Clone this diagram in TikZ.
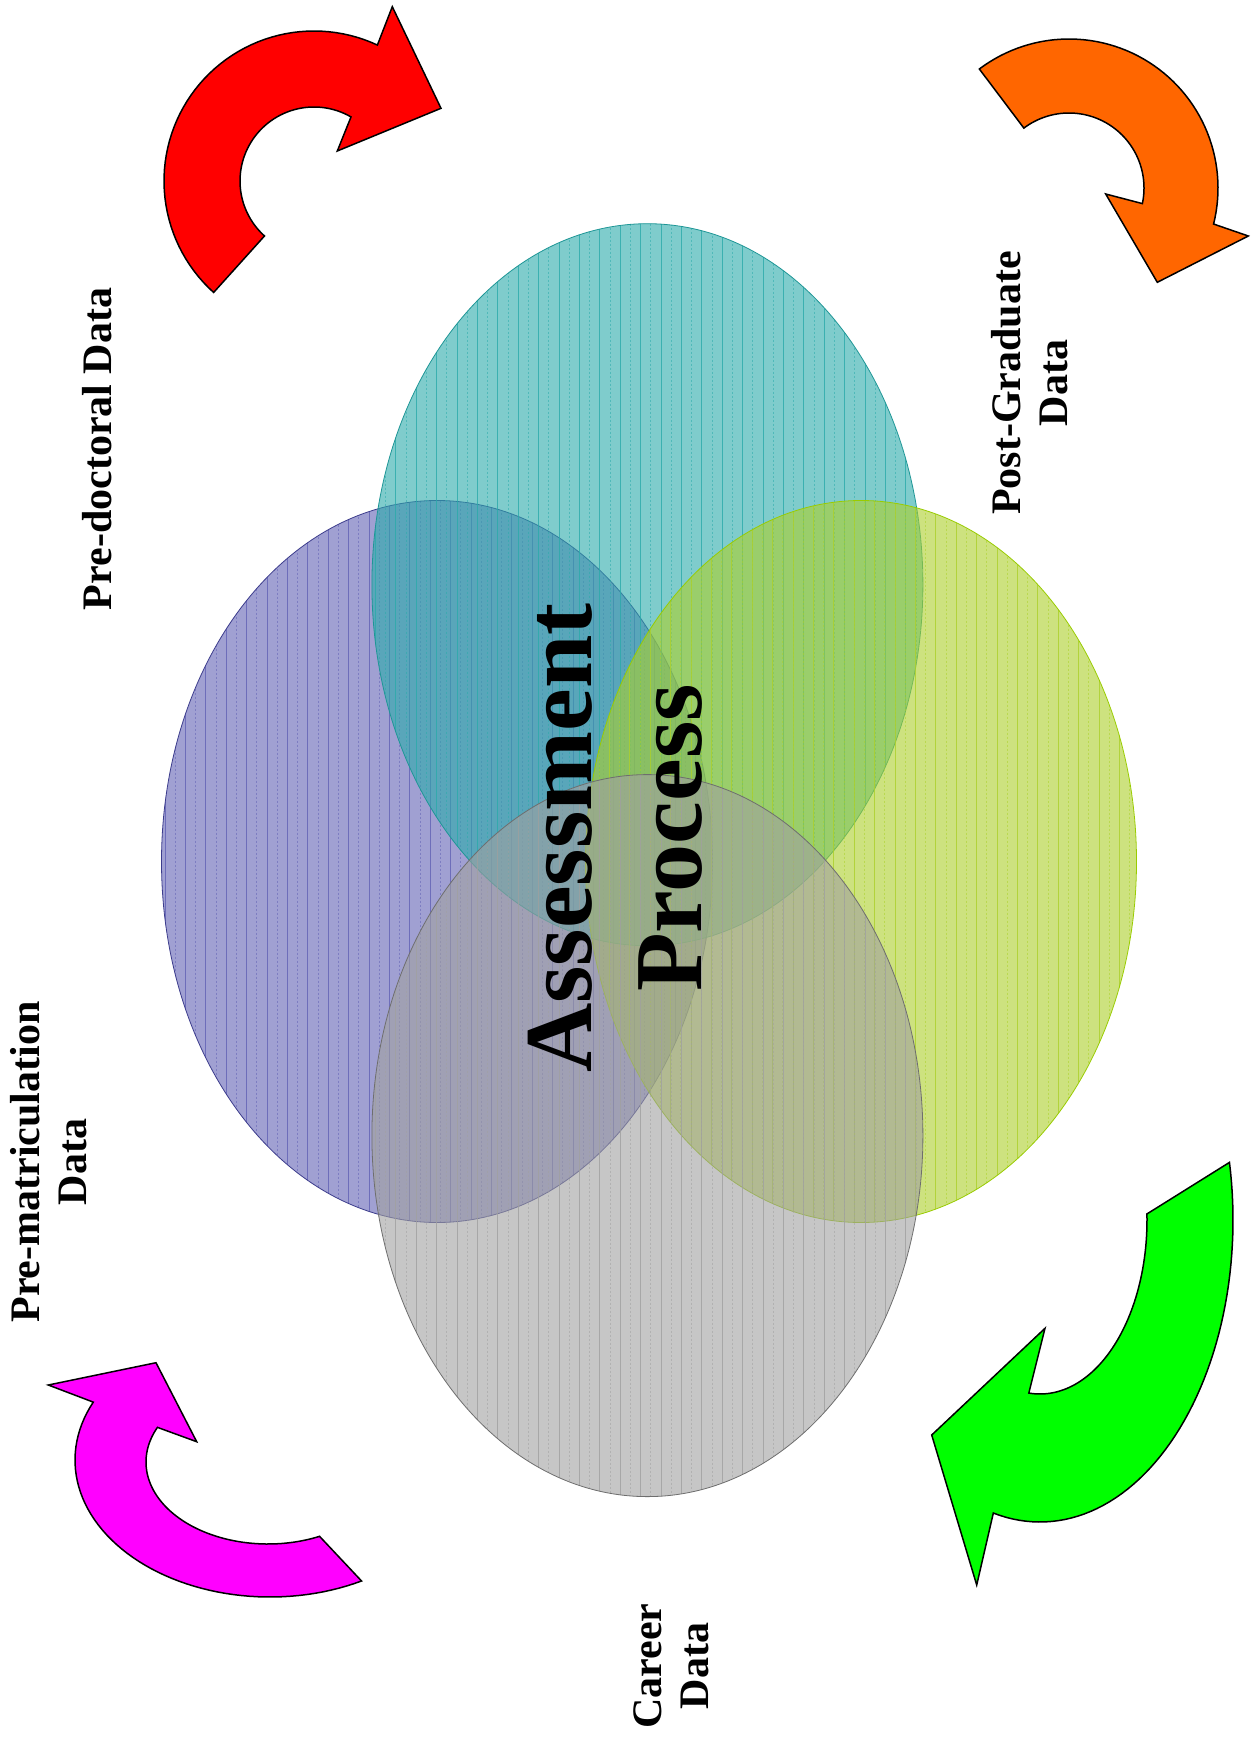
\documentclass[tikz,border=0pt]{standalone}
\usepackage{fontspec}
\setmainfont{Liberation Serif}
\definecolor{cpurple}{RGB}{97,97,180}
\definecolor{cteal}{RGB}{43,170,170}
\definecolor{cgreen}{RGB}{172,208,43}
\definecolor{cgray}{RGB}{160,160,160}
\definecolor{bpurple}{RGB}{60,60,140}
\definecolor{bteal}{RGB}{30,150,150}
\definecolor{bgreen}{RGB}{153,204,0}
\definecolor{bgray}{RGB}{110,110,110}
\definecolor{aorange}{RGB}{255,102,0}
\definecolor{ared}{RGB}{255,0,0}
\definecolor{agreen}{RGB}{0,255,0}
\definecolor{amagenta}{RGB}{255,0,255}
\newcommand\vennellipse[4]{%
  \begin{scope}
    \clip (#1,#2) ellipse [x radius=275.5pt, y radius=361pt];
    \fill[#3, opacity=0.6] (#1,#2) ellipse [x radius=275.5pt, y radius=361pt];
    \foreach \k in {0,...,54}{%
      \ifodd\k
        \draw[#3, opacity=0.55, line width=1pt, dash pattern=on 2pt off 2pt] ({#1-272+10.2*\k},{#2-365}) -- ++(0,730);
      \else
        \draw[#3, opacity=0.8, line width=0.9pt] ({#1-272+10.2*\k},{#2-365}) -- ++(0,730);
      \fi
    }
  \end{scope}
  \draw[#4, line width=0.8pt] (#1,#2) ellipse [x radius=275.5pt, y radius=361pt];
}
\tikzset{
  bigarrow/.style={draw=black, line width=1.5pt, line join=miter},
  lbl/.style={font=\fontsize{42}{47}\selectfont\bfseries, inner sep=0pt, rotate=90, align=center},
  ttl/.style={font=\fontsize{96}{110}\selectfont\bfseries, inner sep=0pt, rotate=90, align=center}
}
\begin{document}
\begin{tikzpicture}[x=1pt, y=-1pt]
\useasboundingbox (0,0) rectangle (1257,1739);
\fill[white] (0,0) rectangle (1257,1739);

% Venn ellipses
\vennellipse{437}{861.5}{cpurple}{bpurple}
\vennellipse{647.4}{584.7}{cteal}{bteal}
\vennellipse{861}{861.5}{cgreen}{bgreen}
\vennellipse{647.4}{1135.6}{cgray}{bgray}

% curved arrows
\draw[bigarrow, fill=ared]
  plot[domain=132:295, samples=60, variable=\t] ({314+150*cos(\t)},{181+150*sin(\t)})
  -- (392.3,6.7) -- (441,108.3) -- (337.3,151)
  -- plot[domain=300:132, samples=60, variable=\t] ({314+74*cos(\t)},{181+74*sin(\t)})
  -- cycle;
\draw[bigarrow, fill=aorange]
  plot[domain=233:374, samples=60, variable=\t] ({1069+149*cos(\t)},{188+149*sin(\t)})
  -- (1248.3,236) -- (1157.3,282.3) -- (1105.7,194)
  -- plot[domain=372:233, samples=60, variable=\t] ({1069+75*cos(\t)},{188+75*sin(\t)})
  -- cycle;
\draw[bigarrow, fill=agreen]
  plot[domain=-11:104, samples=60, variable=\t] ({1040+193*cos(\t)},{1220+302*sin(\t)})
  -- (976.7,1585) -- (931.7,1435) -- (1045,1328.3)
  -- plot[domain=96:-2, samples=60, variable=\t] ({1040+107*cos(\t)},{1220+174*sin(\t)})
  -- cycle;
\draw[bigarrow, fill=amagenta]
  plot[domain=62:205, samples=60, variable=\t] ({270+195*cos(\t)},{1460+137*sin(\t)})
  -- (48.3,1385) -- (156,1362.7) -- (196.7,1441.7)
  -- plot[domain=205:65, samples=60, variable=\t] ({268+122*cos(\t)},{1462+82*sin(\t)})
  -- cycle;

% labels
\node[lbl] (predoc) at (97,449) {Pre-doctoral Data};
\node[lbl] (postgrad) at (1030,383) {Post-Graduate\\Data};
\node[lbl] (premat) at (49,1162) {Pre-matriculation\\Data};
\node[lbl] (career) at (671,1666) {Career\\Data};
\node[ttl] (assess) at (615,838) {Assessment\\Process};
\end{tikzpicture}
\end{document}
